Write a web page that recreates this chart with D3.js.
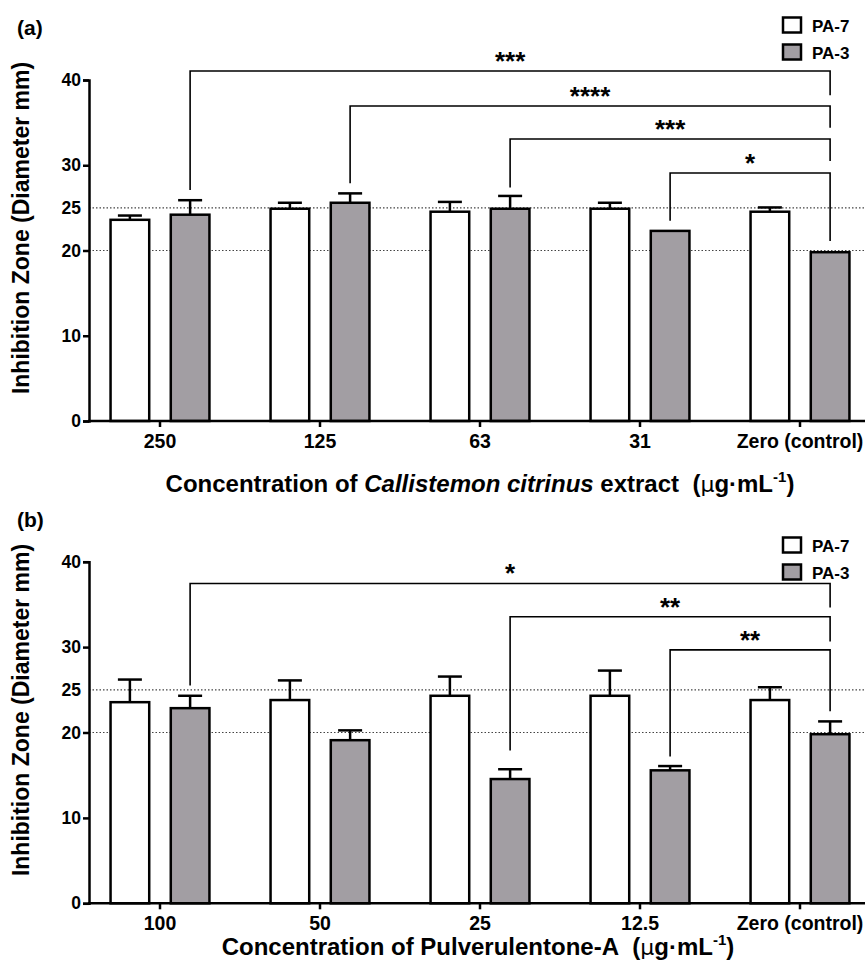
<!DOCTYPE html>
<html>
<head>
<meta charset="utf-8">
<script src="https://cdn.jsdelivr.net/npm/d3@7"></script>
<style>
  body { margin: 0; background: #fff; }
  svg text { font-family: "Liberation Sans", Arial, Helvetica, sans-serif; font-weight: bold; }
</style>
</head>
<body>
<div id="chart"></div>
<script>
// values (mean and upper error, mm)
var series = ["PA-7", "PA-3"];

var catsA = ["250", "125", "63", "31", "Zero (control)"];
var pa7A = [23.6, 24.9, 24.55, 24.9, 24.55];
var pa7ErrA = [0.5, 0.7, 1.15, 0.7, 0.5];
var pa3A = [24.2, 25.6, 24.9, 22.3, 19.8];
var pa3ErrA = [1.7, 1.1, 1.5, 0, 0];
// significance brackets: from category (PA-3) to control PA-3
var sigA = [
  { from: 0, level: 41.06, left: 27.1, right: 38.2, label: "***" },
  { from: 1, level: 36.95, left: 27.9, right: 34.4, label: "****" },
  { from: 2, level: 33.08, left: 27.4, right: 30.5, label: "***" },
  { from: 3, level: 29.09, left: 23.5, right: 21.1, label: "*" }
];

var catsB = ["100", "50", "25", "12.5", "Zero (control)"];
var pa7B = [23.55, 23.8, 24.3, 24.3, 23.8];
var pa7ErrB = [2.65, 2.3, 2.25, 2.95, 1.5];
var pa3B = [22.85, 19.1, 14.55, 15.57, 19.8];
var pa3ErrB = [1.45, 1.15, 1.15, 0.5, 1.5];
var sigB = [
  { from: 0, level: 37.45, left: 25.5, right: 34.65, label: "*" },
  { from: 2, level: 33.56, left: 17.9, right: 30.65, label: "**" },
  { from: 3, level: 29.67, left: 17.2, right: 22.5, label: "**" }
];

var yTicks = [0, 10, 20, 25, 30, 40];
var refLines = [20, 25];

var W = 865, H = 973;
var fills = { "PA-7": "#ffffff", "PA-3": "#a29ea3" };

var svg = d3.select("#chart").append("svg")
    .attr("width", W)
    .attr("height", H);

function drawPanel(opt) {
  var g = svg.append("g");
  var y = d3.scaleLinear().domain([0, 40]).range([opt.bottom, opt.top]);
  var x = d3.scaleBand().domain(opt.cats).range([80, 880]);
  var xs = d3.scaleBand().domain(series).range([9, 151]).padding(0.358);

  var rows = opt.cats.map(function(c, i) {
    return [
      { cat: c, s: "PA-7", v: opt.pa7[i], e: opt.pa7Err[i] },
      { cat: c, s: "PA-3", v: opt.pa3[i], e: opt.pa3Err[i] }
    ];
  });
  var flat = [].concat.apply([], rows);

  // dotted reference lines
  g.selectAll(".ref").data(refLines).enter().append("line")
    .attr("x1", 89).attr("x2", W)
    .attr("y1", function(d) { return y(d); })
    .attr("y2", function(d) { return y(d); })
    .attr("stroke", "#444")
    .attr("stroke-width", 1.2)
    .attr("stroke-dasharray", "1.5,2");

  // error bars
  var eb = g.selectAll(".err").data(flat.filter(function(d) { return d.e > 0; })).enter().append("g");
  eb.append("line")
    .attr("x1", function(d) { return x(d.cat) + xs(d.s) + xs.bandwidth() / 2; })
    .attr("x2", function(d) { return x(d.cat) + xs(d.s) + xs.bandwidth() / 2; })
    .attr("y1", function(d) { return y(d.v); })
    .attr("y2", function(d) { return y(d.v + d.e); })
    .attr("stroke", "#000").attr("stroke-width", 2.5);
  eb.append("line")
    .attr("x1", function(d) { return x(d.cat) + xs(d.s) + xs.bandwidth() / 2 - 12; })
    .attr("x2", function(d) { return x(d.cat) + xs(d.s) + xs.bandwidth() / 2 + 12; })
    .attr("y1", function(d) { return y(d.v + d.e); })
    .attr("y2", function(d) { return y(d.v + d.e); })
    .attr("stroke", "#000").attr("stroke-width", 2.5);

  // bars
  g.selectAll(".bar").data(flat).enter().append("rect")
    .attr("x", function(d) { return x(d.cat) + xs(d.s); })
    .attr("width", xs.bandwidth())
    .attr("y", function(d) { return y(d.v); })
    .attr("height", function(d) { return y(0) - y(d.v); })
    .attr("fill", function(d) { return fills[d.s]; })
    .attr("stroke", "#000")
    .attr("stroke-width", 2.5);

  // axes
  var yAxis = d3.axisLeft(y).tickValues(yTicks).tickSize(6).tickPadding(2);
  var ya = g.append("g").attr("transform", "translate(89,0)").call(yAxis);
  ya.select(".domain").attr("stroke-width", 2.5);
  ya.selectAll(".tick line").attr("stroke-width", 2.5)
    .attr("display", function(d) { return d === 25 ? "none" : null; });
  ya.selectAll(".tick text").attr("font-size", 17.5).attr("fill", "#000")
    .attr("font-family", null);

  var xAxis = d3.axisBottom(x).tickSizeOuter(0).tickSize(6).tickPadding(7);
  var xa = g.append("g").attr("transform", "translate(0," + opt.bottom + ")").call(xAxis);
  xa.select(".domain").attr("stroke-width", 2.5).attr("d", "M88,0H" + W);
  xa.selectAll(".tick line").attr("stroke-width", 2.5);
  xa.selectAll(".tick text").attr("font-size", 19.5).attr("fill", "#000")
    .attr("font-family", null);

  // significance brackets
  var cx = function(c, s) { return x(opt.cats[c]) + xs(s) + xs.bandwidth() / 2; };
  var last = opt.cats.length - 1;
  var br = g.selectAll(".sig").data(opt.sig).enter().append("g");
  br.append("path")
    .attr("fill", "none")
    .attr("stroke", "#000")
    .attr("stroke-width", 1.6)
    .attr("d", function(d) {
      var x0 = cx(d.from, "PA-3"), x1 = cx(last, "PA-3");
      return "M" + x0 + "," + y(d.left) + "V" + y(d.level) + "H" + x1 + "V" + y(d.right);
    });
  br.append("text")
    .attr("x", function(d) { return (cx(d.from, "PA-3") + cx(last, "PA-3")) / 2; })
    .attr("y", function(d) { return y(d.level) - 1; })
    .attr("text-anchor", "middle")
    .attr("font-size", 26)
    .text(function(d) { return d.label; });

  // legend
  var lg = g.selectAll(".leg").data(series).enter().append("g")
    .attr("transform", function(d, i) { return "translate(783," + (opt.legendY + i * 27) + ")"; });
  lg.append("rect")
    .attr("x", 0).attr("y", -7.5).attr("width", 18).attr("height", 15)
    .attr("fill", function(d) { return fills[d]; })
    .attr("stroke", "#000").attr("stroke-width", 2.5);
  lg.append("text")
    .attr("x", 29).attr("y", 6.5)
    .attr("font-size", 17)
    .text(function(d) { return d; });

  // panel label
  g.append("text").attr("x", 17).attr("y", opt.labelY)
    .attr("font-size", 21).text(opt.label);

  // y title
  g.append("text")
    .attr("transform", "translate(29," + opt.yTitleY + ") rotate(-90)")
    .attr("text-anchor", "middle")
    .attr("font-size", 23)
    .text("Inhibition Zone (Diameter mm)");

  // x title
  var t = g.append("text")
    .attr("x", opt.xTitleX).attr("y", opt.xTitleY)
    .attr("text-anchor", "middle")
    .attr("font-size", 24);
  opt.xTitle(t);
}

function unitTail(t) {
  t.append("tspan").text("\u00a0\u00a0(");
  t.append("tspan").attr("font-family", "DejaVu Sans").attr("font-weight", "normal").attr("font-size", 22).text("\u03bc");
  t.append("tspan").text("g\u00b7mL");
  t.append("tspan").attr("font-size", 15).attr("dy", -10).text("-1");
  t.append("tspan").attr("dy", 10).text(")");
}

drawPanel({
  cats: catsA, pa7: pa7A, pa7Err: pa7ErrA, pa3: pa3A, pa3Err: pa3ErrA, sig: sigA,
  top: 80, bottom: 421, legendY: 25, label: "(a)", labelY: 35,
  yTitleY: 228, xTitleX: 480, xTitleY: 492,
  xTitle: function(t) {
    t.append("tspan").text("Concentration of ");
    t.append("tspan").attr("font-style", "italic").text("Callistemon citrinus");
    t.append("tspan").text(" extract");
    unitTail(t);
  }
});

drawPanel({
  cats: catsB, pa7: pa7B, pa7Err: pa7ErrB, pa3: pa3B, pa3Err: pa3ErrB, sig: sigB,
  top: 561.7, bottom: 903.3, legendY: 545, label: "(b)", labelY: 527,
  yTitleY: 710, xTitleX: 478, xTitleY: 955,
  xTitle: function(t) {
    t.append("tspan").text("Concentration of Pulverulentone-A");
    unitTail(t);
  }
});
</script>
</body>
</html>
